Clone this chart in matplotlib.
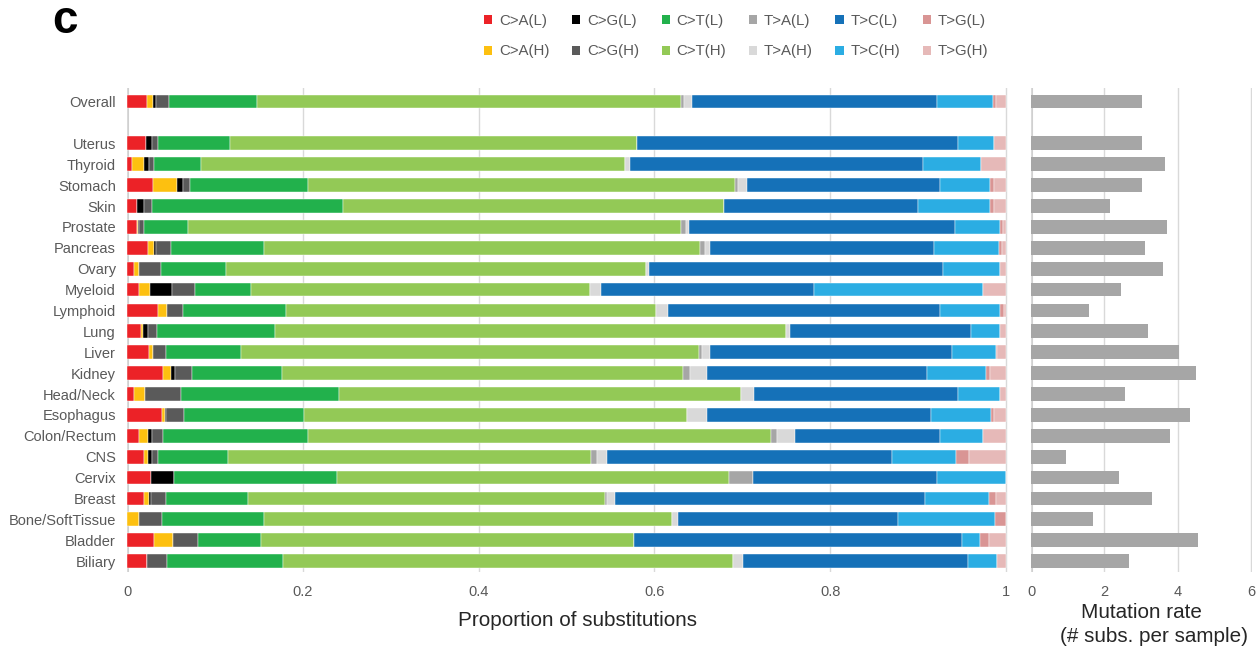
import numpy as np
import matplotlib
matplotlib.use("Agg")
import matplotlib.pyplot as plt
from matplotlib.patches import Patch

plt.rcParams["font.family"] = ["Liberation Sans", "DejaVu Sans"]

# Rows: pooled set first, then tissues
groups = ["Overall", "Uterus", "Thyroid", "Stomach", "Skin", "Prostate", "Pancreas",
          "Ovary", "Myeloid", "Lymphoid", "Lung", "Liver", "Kidney", "Head/Neck",
          "Esophagus", "Colon/Rectum", "CNS", "Cervix", "Breast", "Bone/SoftTissue",
          "Bladder", "Biliary"]

# Proportion of substitutions (%) per class; (L)/(H) strata
ca_l = [2.24, 2.13, 0.57, 2.92, 1.10, 1.17, 2.36, 0.76, 1.33, 3.56, 1.59, 2.47, 4.10, 0.76, 3.98, 1.33, 1.93, 2.70, 1.93, 0.00, 3.11, 2.24]
ca_h = [0.75, 0.00, 1.37, 2.81, 0.00, 0.11, 0.72, 0.57, 1.33, 1.02, 0.26, 0.49, 0.88, 1.33, 0.34, 1.02, 0.46, 0.00, 0.57, 1.37, 2.09, 0.00]
cg_l = [0.27, 0.75, 0.53, 0.60, 0.86, 0.11, 0.27, 0.00, 2.42, 0.00, 0.53, 0.00, 0.46, 0.00, 0.11, 0.46, 0.46, 2.65, 0.23, 0.00, 0.00, 0.00]
cg_h = [1.48, 0.68, 0.60, 0.83, 0.88, 0.57, 1.66, 2.50, 2.65, 1.79, 1.06, 1.44, 1.93, 4.05, 2.08, 1.29, 0.72, 0.00, 1.71, 2.62, 2.91, 2.34]
ct_l = [10.08, 8.16, 5.31, 13.42, 21.70, 5.01, 10.55, 7.47, 6.34, 11.72, 13.42, 8.53, 10.27, 17.94, 13.65, 16.46, 7.93, 18.51, 9.36, 11.60, 7.17, 13.20]
ct_h = [48.17, 46.30, 48.27, 48.58, 43.34, 56.02, 49.64, 47.70, 38.57, 42.09, 58.10, 52.10, 45.62, 45.73, 43.57, 52.67, 41.26, 44.66, 40.55, 46.38, 42.43, 51.19]
ta_l = [0.38, 0.00, 0.00, 0.39, 0.00, 0.60, 0.53, 0.00, 0.00, 0.00, 0.00, 0.38, 0.76, 0.00, 0.00, 0.76, 0.72, 2.66, 0.26, 0.00, 0.00, 0.00]
ta_h = [0.94, 0.00, 0.57, 1.02, 0.00, 0.31, 0.60, 0.42, 1.25, 1.33, 0.46, 0.91, 2.01, 1.51, 2.21, 2.00, 1.17, 0.00, 0.91, 0.75, 0.00, 1.07]
tc_l = [27.84, 36.52, 33.33, 21.88, 22.11, 30.33, 25.53, 33.40, 24.31, 30.98, 20.59, 27.58, 24.95, 23.17, 25.52, 16.46, 32.42, 20.97, 35.30, 25.03, 37.28, 25.67]
tc_h = [6.34, 4.10, 6.60, 5.72, 8.23, 5.12, 7.32, 6.45, 19.23, 6.83, 3.33, 5.01, 6.71, 4.78, 6.83, 4.97, 7.28, 7.85, 7.25, 11.00, 2.05, 3.23]
tg_l = [0.38, 0.00, 0.00, 0.46, 0.46, 0.27, 0.34, 0.00, 0.00, 0.46, 0.00, 0.11, 0.46, 0.00, 0.31, 0.00, 1.44, 0.00, 0.80, 1.25, 1.02, 0.00]
tg_h = [1.14, 1.37, 2.81, 1.33, 1.33, 0.38, 0.46, 0.68, 2.54, 0.23, 0.65, 0.94, 1.82, 0.68, 1.40, 2.54, 4.21, 0.00, 1.14, 0.00, 1.93, 1.06]

# Substitutions per sample
mutation_rate = [3.03, 3.03, 3.66, 3.03, 2.15, 3.70, 3.10, 3.59, 2.46, 1.58, 3.20, 4.05,
                 4.51, 2.57, 4.34, 3.80, 0.95, 2.39, 3.31, 1.68, 4.55, 2.67]

series = [
    ("C>A(L)", ca_l, "#EC2227"),
    ("C>A(H)", ca_h, "#FDC010"),
    ("C>G(L)", cg_l, "#000000"),
    ("C>G(H)", cg_h, "#5A5A5A"),
    ("C>T(L)", ct_l, "#22B14C"),
    ("C>T(H)", ct_h, "#93C956"),
    ("T>A(L)", ta_l, "#A6A6A6"),
    ("T>A(H)", ta_h, "#D9D9D9"),
    ("T>C(L)", tc_l, "#1571B8"),
    ("T>C(H)", tc_h, "#2BADE3"),
    ("T>G(L)", tg_l, "#D99594"),
    ("T>G(H)", tg_h, "#E6B9B8"),
]

W, H = 1259, 649
fig = plt.figure(figsize=(W / 100, H / 100), dpi=100)

grid_c = "#D9D9D9"
tick_c = "#595959"
ypos = np.r_[0, np.arange(2, len(groups) + 1)]
ylim = (22.52, -0.65)
bar_h = 0.66

# Stacked proportions
ax = fig.add_axes([127 / W, 77 / H, 884 / W, 484 / H])
left = np.zeros(len(groups))
for name, vals, col in series:
    v = np.asarray(vals) / 100.0
    ax.barh(ypos, v, left=left, height=bar_h, color=col,
            edgecolor="white", linewidth=0.3, label=name)
    left += v
ax.set_xlim(0, 1.0057)
ax.set_ylim(*ylim)
ax.set_xticks([0, 0.2, 0.4, 0.6, 0.8, 1.0])
ax.set_xticklabels(["0", "0.2", "0.4", "0.6", "0.8", "1"])
ax.set_yticks(ypos)
ax.set_yticklabels(groups)
ax.grid(axis="x", color=grid_c, linewidth=1)
ax.set_axisbelow(True)
ax.axvline(0, color="#CFCFCF", linewidth=2.2, zorder=0.5)
ax.tick_params(axis="both", length=0, labelsize=10.5, colors=tick_c)
ax.tick_params(axis="x", pad=9)
ax.tick_params(axis="y", pad=8)
for s in ax.spines.values():
    s.set_visible(False)

# Mutation rate
ax2 = fig.add_axes([1031 / W, 77 / H, 221 / W, 484 / H])
ax2.barh(ypos, mutation_rate, height=bar_h, color="#A6A6A6")
ax2.set_xlim(0, 6.03)
ax2.set_ylim(*ylim)
ax2.set_xticks([0, 2, 4, 6])
ax2.set_yticks([])
ax2.grid(axis="x", color=grid_c, linewidth=1)
ax2.set_axisbelow(True)
ax2.axvline(0, color="#CFCFCF", linewidth=2.2, zorder=0.5)
ax2.tick_params(axis="both", length=0, labelsize=10.5, colors=tick_c)
ax2.tick_params(axis="x", pad=9)
for s in ax2.spines.values():
    s.set_visible(False)

# Axis titles
fig.text(578 / W, 1 - 620 / H, "Proportion of substitutions", ha="center", va="center",
         fontsize=14.9, color="#262626")
fig.text(1141 / W, 1 - 612 / H, "Mutation rate", ha="center", va="center",
         fontsize=14.9, color="#262626")
fig.text(1154 / W, 1 - 637 / H, "(# subs. per sample)", ha="center", va="center",
         fontsize=14.9, color="#262626")

# Panel letter
fig.text(52 / W, 1 - 33 / H, "c", fontsize=33, fontweight="bold", va="baseline", ha="left")

# Legend: L on the first row, H on the second
handles = [Patch(facecolor=col, edgecolor="none") for _, _, col in series]
labels = [name for name, _, _ in series]
fig.legend(handles, labels, ncol=6, loc="upper left",
           bbox_to_anchor=(484 / W, 1 - 14 / H), frameon=False, fontsize=10.8,
           handlelength=0.55, handleheight=0.55, handletextpad=0.45,
           columnspacing=1.5, labelspacing=1.1, borderpad=0, borderaxespad=0,
           labelcolor=tick_c)

fig.savefig("out.png", dpi=100)
